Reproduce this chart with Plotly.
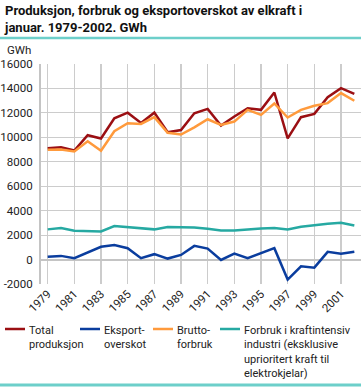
import plotly.graph_objects as go

years = list(range(1979, 2003))
total_produksjon = [9100, 9190, 8920, 10170, 9900, 11560, 12020, 11180, 12020, 10410,
                    10600, 11970, 12330, 10970, 11700, 12380, 12250, 13670, 9920, 11650,
                    11920, 13280, 14020, 13560]
eksportoverskot = [220, 300, 110, 575, 1040, 1180, 930, 110, 440, 80,
                   380, 1120, 900, -30, 490, 110, 490, 930, -1640, -550,
                   -660, 630, 470, 630]
bruttoforbruk = [8980, 9000, 8840, 9680, 8900, 10500, 11150, 11100, 11650, 10370,
                 10230, 10820, 11480, 11010, 11290, 12250, 11840, 12770, 11620, 12250,
                 12580, 12800, 13620, 12990]
kraftintensiv = [2470, 2580, 2360, 2300, 2300, 2740, 2630, 2520, 2470, 2660,
                 2640, 2630, 2520, 2380, 2380, 2490, 2550, 2580, 2470, 2690,
                 2820, 2930, 3010, 2790]

series_names = ["Total<br>produksjon", "Eksport-<br>overskot", "Brutto-<br>forbruk",
                "Forbruk i kraftintensiv<br>industri (eksklusive<br>uprioritert kraft til<br>elektrokjelar)"]
series_data = [total_produksjon, eksportoverskot, bruttoforbruk, kraftintensiv]
series_colors = ["#9b0f13", "#0a3d9e", "#ff9a3c", "#26a9a2"]
legend_x_px = [5, 80, 153, 220]

y_ticks = list(range(-2000, 16001, 2000))
x_ticks = list(range(1979, 2002, 2))

FONT = "Roboto"
W, H = 361, 387
L, T, B, R = 41, 64, 103, 0
PW = W - L - R
PH = H - T - B

def px_x(x):
    return (x - L) / PW

def px_y(y):
    return (H - B - y) / PH

fig = go.Figure()
for name, data, color in zip(series_names, series_data, series_colors):
    fig.add_trace(go.Scatter(x=years, y=data, name=name.replace("<br>", " "), mode="lines",
                             line=dict(color=color, width=2.5), showlegend=False))

fig.update_layout(
    width=W, height=H,
    margin=dict(l=L, r=R, t=T, b=B, pad=0),
    paper_bgcolor="white", plot_bgcolor="white",
    font=dict(family=FONT, size=11.5, color="#222"),
    showlegend=False,
    xaxis=dict(range=[1978.5, 2002.5], tickmode="array", tickvals=x_ticks,
               ticktext=[str(v) for v in x_ticks], tickangle=-45,
               showgrid=True, gridcolor="#cccccc", gridwidth=1.2,
               zeroline=False, showline=False, ticks="", fixedrange=True,
               tickfont=dict(family=FONT, size=11.5, color="#222")),
    yaxis=dict(range=[-2000, 16000], tickmode="array", tickvals=y_ticks,
               ticktext=[str(v) for v in y_ticks],
               showgrid=True, gridcolor="#cccccc", gridwidth=1.2,
               zeroline=True, zerolinecolor="#c4c4c4", zerolinewidth=2,
               showline=True, linecolor="#c4c4c4", linewidth=2,
               ticks="", ticklabelstandoff=4, fixedrange=True,
               tickfont=dict(family=FONT, size=11.5, color="#222")),
)

# title
fig.add_annotation(text="<b>Produksjon, forbruk og eksportoverskot av elkraft i<br>januar. 1979-2002. GWh</b>",
                   xref="paper", yref="paper", x=px_x(2), y=px_y(1),
                   xanchor="left", yanchor="top", align="left", showarrow=False,
                   font=dict(family=FONT, size=13, color="#111"))

fig.add_annotation(text="GWh", xref="paper", yref="paper", x=px_x(5), y=px_y(50),
                   xanchor="left", yanchor="middle", showarrow=False,
                   font=dict(family=FONT, size=11.5, color="#222"))

# legend
for name, color, lx in zip(series_names, series_colors, legend_x_px):
    fig.add_shape(type="line", xref="paper", yref="paper", x0=px_x(lx), x1=px_x(lx + 20),
                  y0=px_y(329), y1=px_y(329), line=dict(color=color, width=2.5))
    fig.add_annotation(text=name, xref="paper", yref="paper", x=px_x(lx + 22), y=px_y(322),
                       xanchor="left", yanchor="top", align="left", showarrow=False,
                       font=dict(family=FONT, size=11, color="#222"))

teal_rule = "#6dcfca"
fig.add_shape(type="line", xref="paper", yref="paper", x0=px_x(0), x1=px_x(W),
              y0=px_y(38), y1=px_y(38), line=dict(color=teal_rule, width=2.5))
fig.add_shape(type="line", xref="paper", yref="paper", x0=px_x(0), x1=px_x(W),
              y0=px_y(385), y1=px_y(385), line=dict(color=teal_rule, width=3))

fig.write_html("out.html", config={"displayModeBar": False, "staticPlot": True},
               post_script="document.body.style.margin='0px';document.body.style.overflow='hidden';")
